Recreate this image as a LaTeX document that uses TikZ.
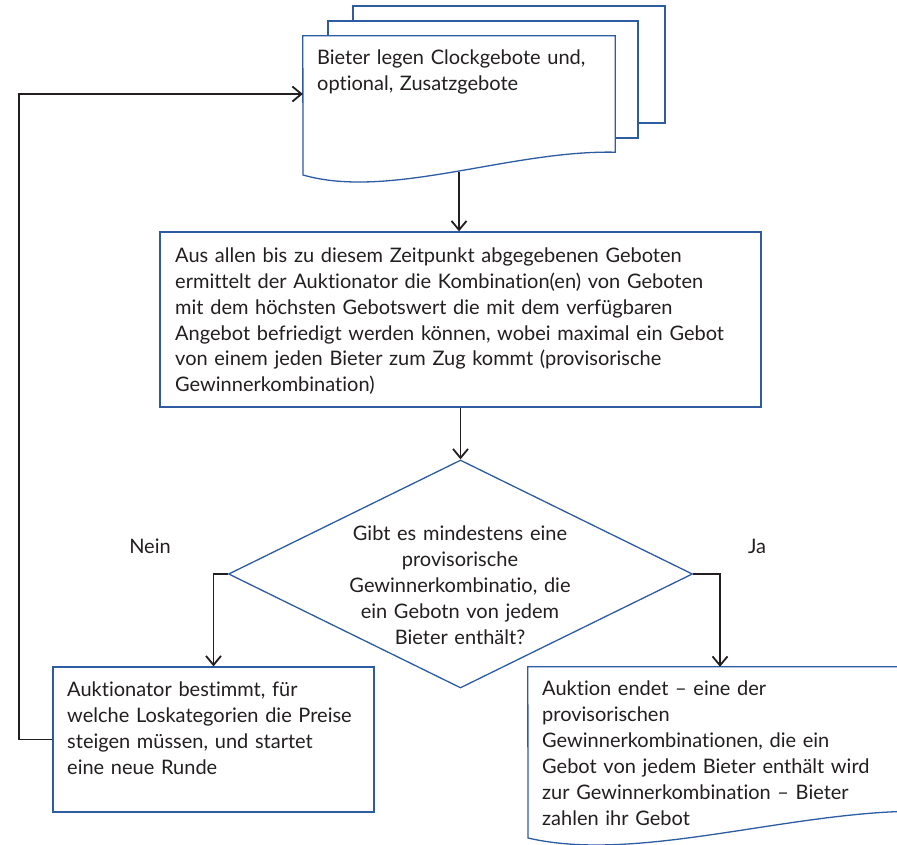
\documentclass[tikz,border=0pt]{standalone}
\usepackage{xcolor}
\usepackage{fontspec}
\setmainfont{Lato}[Ligatures=CommonOff]
\usetikzlibrary{arrows.meta,shapes.geometric}

\definecolor{boxblue}{RGB}{46,92,160}
\definecolor{ink}{RGB}{35,31,32}

\tikzset{
  every node/.style={font=\fontsize{20}{26}\selectfont, text=ink},
  shapebox/.style={draw=boxblue, line width=1.3pt, fill=white, inner sep=0pt},
  flow/.style={draw=ink, line width=1.8pt, -{Straight Barb[length=9pt,width=15pt]}},
  txt/.style={inner sep=0pt, align=left, anchor=base west},
}

\begin{document}
\begin{tikzpicture}[x=1pt, y=-1pt]
    \useasboundingbox (0,0) rectangle (897,845);
    % stacked pages
    \draw[shapebox] (353,6) rectangle (665,123);
    \draw[shapebox] (328,21) rectangle (638,138);
    \node[inner sep=0pt, minimum width=312pt, minimum height=116pt] (bid) at (459,94) {};
    \draw[shapebox] (bid.south east) -- (bid.north east) -- (bid.north west) -- (303,175)
        .. controls (390,200) and (510,150) .. cycle;
    \coordinate (bidwave) at (459,172);
    \node[txt, text width=295pt] (bidtext) at (317,65) {Bieter legen Clockgebote und,\\optional, Zusatzgebote};

    \node[shapebox, minimum width=601pt, minimum height=175pt] (main) at (460.5,319.5) {};
    \node[txt, text width=585pt] (maintext) at (175,262) {Aus allen bis zu diesem Zeitpunkt abgegebenen Geboten\\ermittelt der Auktionator die Kombination(en) von Geboten\\mit dem höchsten Gebotswert die mit dem verfügbaren\\Angebot befriedigt werden können, wobei maximal ein Gebot\\von einem jeden Bieter zum Zug kommt (provisorische\\Gewinnerkombination)};

    \node[shapebox, diamond, minimum width=464pt, minimum height=228pt] (check) at (460.5,574) {};
    \node[txt, align=center, anchor=base, text width=260pt] (checktext) at (460,540) {Gibt es mindestens eine\\provisorische\\Gewinnerkombinatio, die\\ein Gebotn von jedem\\Bieter enthält?};

    \node (nein) at (150,546) {Nein};
    \node (ja) at (757,546) {Ja};

    \node[shapebox, minimum width=321pt, minimum height=145pt] (raise) at (213.5,739.5) {};
    \node[txt, text width=305pt] (raisetext) at (67,696) {Auktionator bestimmt, für\\welche Loskategorien die Preise\\steigen müssen, und startet\\eine neue Runde};

    % end of auction, cut at the right edge
    \node[inner sep=0pt, minimum width=384pt, minimum height=144pt] (finish) at (720,739) {};
    \draw[shapebox] (528,838) -- (finish.north west) -- (finish.north east) -- (finish.south east)
        .. controls (783,813) and (635,863) .. cycle;
    \node[txt, text width=345pt] (finishtext) at (542,695) {Auktion endet -- eine der\\provisorischen\\Gewinnerkombinationen, die ein\\Gebot von jedem Bieter enthält wird\\zur Gewinnerkombination -- Bieter\\zahlen ihr Gebot};

    \draw[flow] (bidwave) -- (bidwave |- main.north);
    \draw[flow] (main.south) -- (check.north);
    \draw[flow] (check.west) -| (raise.north);
    \draw[flow] (check.east) -| (finish.north);
    \draw[flow] (raise.west) -- ++(-33,0) |- (bid.west);
  \end{tikzpicture}
\end{document}
